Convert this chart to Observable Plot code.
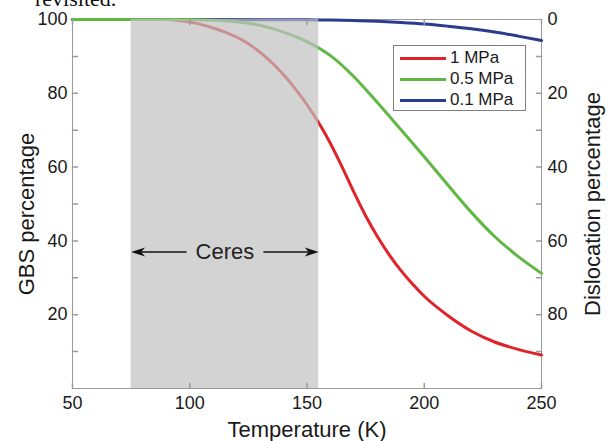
<!DOCTYPE html>
<html><head><meta charset="utf-8">
<script src="https://cdn.jsdelivr.net/npm/d3@7"></script>
<script src="https://cdn.jsdelivr.net/npm/@observablehq/plot@0.6"></script>
<style>
body{margin:0;background:#fff;}
#wrap{position:relative;width:615px;height:441px;overflow:hidden;}
#frag{position:absolute;left:35px;top:-13px;font-family:"Liberation Serif",serif;font-size:22px;line-height:24px;color:#111;}
#chart{position:absolute;left:0;top:0;}
#legend{position:absolute;left:393px;top:45px;width:133px;height:66px;border:1px solid #808080;background:#fff;box-sizing:border-box;font-family:"Liberation Sans",Arial,sans-serif;font-size:17px;color:#1a1a1a;}
.row{position:absolute;left:6px;height:20px;display:flex;align-items:center;}
.sw{width:46px;height:3px;margin-right:4px;}
</style></head><body>
<div id="wrap"><div id="frag">revisited.</div><div id="chart"></div><div id="legend"></div></div>
<script>
// ---- data ----
const seriesNames = ["1 MPa", "0.5 MPa", "0.1 MPa"];
const seriesColors = ["#e0232b", "#5fb844", "#2b3b8f"];
const temp1MPa = [50, 90, 95, 100, 105, 110, 115, 120, 125, 130, 135, 140, 145, 150, 155, 160, 165, 170, 175, 180, 185, 190, 195, 200, 210, 220, 230, 240, 250];
const gbs1MPa  = [100, 100, 99.75, 99.3, 98.6, 97.7, 96.6, 95.2, 93.4, 91.1, 88.3, 85, 81.2, 76.9, 72, 66.4, 60, 53.2, 46.8, 41.2, 36.3, 32, 28.3, 25, 19.8, 15.6, 12.6, 10.6, 9.1];
const temp05MPa = [50, 100, 110, 120, 130, 140, 150, 160, 170, 180, 190, 200, 210, 220, 230, 240, 250];
const gbs05MPa  = [100, 100, 99.8, 99.4, 98.4, 96.6, 94, 90.2, 84.5, 77.5, 70.2, 62.8, 55.2, 47.8, 41.2, 35.8, 31.2];
const temp01MPa = [50, 150, 160, 170, 180, 190, 200, 210, 220, 230, 240, 250];
const gbs01MPa  = [100, 99.9, 99.85, 99.7, 99.5, 99.2, 98.8, 98.2, 97.5, 96.6, 95.5, 94.3];
const xTicks = [50, 100, 150, 200, 250];
const yLabelTicks = [20, 40, 60, 80, 100];
const yMinorTicks = [10, 20, 30, 40, 50, 60, 70, 80, 90];
const xDomain = [50, 250];
const yDomain = [0, 100];
const ceresSpan = [75, 155];
const ceresLevel = 37;
const ceresLabel = "Ceres";
const ceresGap = 16.4;
const xLabel = "Temperature (K)";
const yLabelLeft = "GBS percentage";
const yLabelRight = "Dislocation percentage";

// ---- build tables ----
const mk = (name, T, V) => T.map((t, i) => ({series: name, t, v: V[i]}));
const drawOrder = [
  mk(seriesNames[0], temp1MPa, gbs1MPa),
  mk(seriesNames[2], temp01MPa, gbs01MPa),
  mk(seriesNames[1], temp05MPa, gbs05MPa)
];
const colorOf = Object.fromEntries(seriesNames.map((n, i) => [n, seriesColors[i]]));
const band = [{x1: ceresSpan[0], x2: ceresSpan[1], y1: yDomain[0], y2: yDomain[1]}];
const mid = (ceresSpan[0] + ceresSpan[1]) / 2;
const shafts = [
  {x1: ceresSpan[0] + 2, x2: mid - ceresGap},
  {x1: mid + ceresGap, x2: ceresSpan[1] - 2}
];
const heads = [{x: ceresSpan[0], r: 180}, {x: ceresSpan[1], r: 0}];
const headSymbol = {draw(ctx) { ctx.moveTo(0, 0); ctx.lineTo(-14, -4.5); ctx.lineTo(-10, 0); ctx.lineTo(-14, 4.5); ctx.closePath(); }};
const tickShape = {draw(ctx, l) { ctx.moveTo(0, 0); ctx.lineTo(0, -l); }};
const axisGray = "#9a9a9a";

const lineMarks = drawOrder.map(data => Plot.line(data, {x: "t", y: "v", stroke: colorOf[data[0].series], strokeWidth: 3, curve: "monotone-x"}));

const chart = Plot.plot({
  width: 615, height: 441,
  marginLeft: 72, marginRight: 74, marginTop: 19, marginBottom: 53,
  style: {fontFamily: "'Liberation Sans', Arial, sans-serif", fontSize: "18px", color: "#1a1a1a", background: "transparent"},
  x: {domain: xDomain},
  y: {domain: yDomain},
  marks: [
    Plot.frame({stroke: axisGray, strokeWidth: 1}),
    ...lineMarks,
    Plot.rect(band, {x1: "x1", x2: "x2", y1: "y1", y2: "y2", fill: "#c0c0c0", fillOpacity: 0.7}),
    Plot.link(shafts, {x1: "x1", x2: "x2", y1: ceresLevel, y2: ceresLevel, stroke: "#111", strokeWidth: 1.6}),
    Plot.dot(heads, {x: "x", y: ceresLevel, rotate: "r", symbol: headSymbol, fill: "#111", stroke: "none"}),
    Plot.text([ceresLabel], {x: mid, y: ceresLevel, text: d => d, fontSize: 22, fill: "#222"}),
    // inward ticks
    Plot.vector(yMinorTicks, {x: xDomain[0], y: d => d, length: 5, rotate: 90, anchor: "start", shape: tickShape, stroke: axisGray}),
    Plot.vector(yMinorTicks, {x: xDomain[1], y: d => d, length: 5, rotate: -90, anchor: "start", shape: tickShape, stroke: axisGray}),
    Plot.vector(xTicks, {x: d => d, y: yDomain[0], length: 5, rotate: 0, anchor: "start", shape: tickShape, stroke: axisGray}),
    Plot.vector(xTicks, {x: d => d, y: yDomain[1], length: 5, rotate: 180, anchor: "start", shape: tickShape, stroke: axisGray}),
    Plot.axisY({anchor: "left", ticks: yLabelTicks, tickSize: 0, tickPadding: 5, label: null}),
    Plot.axisY({anchor: "right", ticks: yLabelTicks, tickSize: 0, tickPadding: 6, tickFormat: d => String(100 - d), label: null}),
    Plot.axisX({anchor: "bottom", ticks: xTicks, tickSize: 0, tickPadding: 8, label: null}),
    Plot.text([yLabelLeft], {frameAnchor: "left", text: d => d, rotate: -90, textAnchor: "middle", lineAnchor: "middle", dx: -46, dy: 10, fontSize: 22, fill: "#1a1a1a"}),
    Plot.text([yLabelRight], {frameAnchor: "right", text: d => d, rotate: -90, textAnchor: "middle", lineAnchor: "middle", dx: 51, dy: 0, fontSize: 22, fill: "#1a1a1a"}),
    Plot.text([xLabel], {frameAnchor: "bottom", text: d => d, textAnchor: "middle", lineAnchor: "middle", dy: 41, fontSize: 22, fill: "#1a1a1a"})
  ]
});
document.getElementById("chart").append(chart);

// legend (inside the axes, upper right)
const legend = document.getElementById("legend");
seriesNames.forEach((n, i) => {
  const row = document.createElement("div");
  row.className = "row";
  row.style.top = (2 + i * 21) + "px";
  const sw = document.createElement("div");
  sw.className = "sw";
  sw.style.background = seriesColors[i];
  const tx = document.createElement("span");
  tx.textContent = n;
  row.append(sw, tx);
  legend.append(row);
});
</script>
</body></html>
